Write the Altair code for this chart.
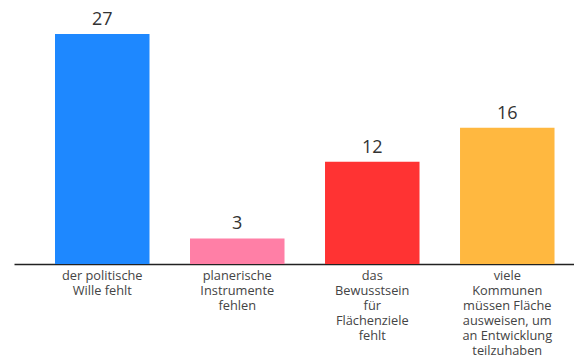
import altair as alt
import pandas as pd

categories = [
    "der politische|Wille fehlt",
    "planerische|Instrumente|fehlen",
    "das|Bewusstsein|für|Flächenziele|fehlt",
    "viele|Kommunen|müssen Fläche|ausweisen, um|an Entwicklung|teilzuhaben",
]
values = [27, 3, 12, 16]
colors = ["#1E88FF", "#FF7FA6", "#FF3333", "#FFB840"]

df = pd.DataFrame({"cat": categories, "value": values, "color": colors})

x = alt.X(
    "cat:N",
    sort=categories,
    title=None,
    scale=alt.Scale(paddingInner=0.3, paddingOuter=0.224, align=0.678),
    axis=alt.Axis(
        labelAngle=0,
        labelExpr="split(datum.label, '|')",
        labelFont="Open Sans",
        labelFontSize=12.8,
        labelColor="#444444",
        labelLineHeight=15,
        labelPadding=5,
        labelBaseline="top",
        ticks=False,
        domainColor="#222222",
        domainWidth=1.5,
        labelLimit=200,
    ),
)
y = alt.Y("value:Q", title=None, scale=alt.Scale(domain=[0, 27], nice=False, zero=True), axis=None)

bars = alt.Chart(df).mark_bar().encode(x=x, y=y, color=alt.Color("color:N", scale=None))
text = alt.Chart(df).mark_text(baseline="bottom", dy=-5, font="Open Sans", fontSize=18, color="#333333").encode(
    x=alt.X("cat:N", sort=categories), y="value:Q", text="value:Q"
)

chart = (
    alt.layer(bars, text)
    .properties(width=560, height=230, autosize=alt.AutoSizeParams(type="none"),
                padding={"left": 6, "top": 26, "right": 0, "bottom": 94})
    .configure(background="white", view=alt.ViewConfig(stroke=None))
)

chart.save("out.html", embed_options={"renderer": "svg", "actions": False})
